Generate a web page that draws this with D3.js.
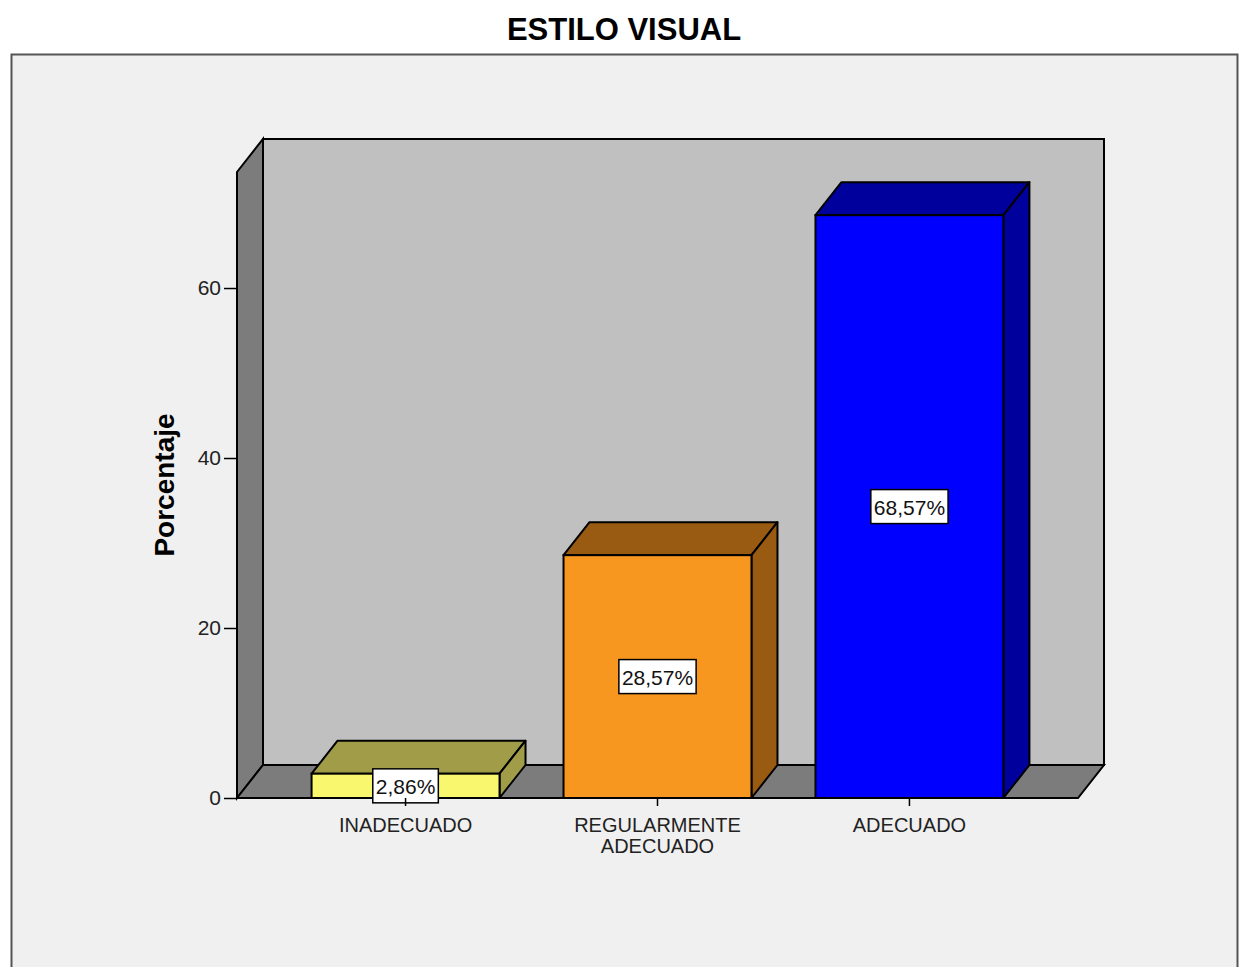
<!DOCTYPE html>
<html>
<head>
<meta charset="utf-8">
<script src="https://cdn.jsdelivr.net/npm/d3@7"></script>
<style>
  body { margin: 0; background: #ffffff; }
  svg { display: block; font-family: "Liberation Sans", Arial, sans-serif; }
</style>
</head>
<body>
<div id="chart"></div>
<script>
const categories = ['INADECUADO', 'REGULARMENTE\nADECUADO', 'ADECUADO'];
const percentages = [2.86, 28.57, 68.57];
const valueLabels = ['2,86%', '28,57%', '68,57%'];
const yTicks = [0, 20, 40, 60];
const frontColors = ['#f8f76e', '#f7971f', '#0000ff'];
const darkColors = ['#a09c48', '#995a12', '#00009c'];

const W = 1241, H = 967;
const depthX = 26, depthY = -33; // 3D offset

const svg = d3.select('#chart').append('svg')
  .attr('width', W).attr('height', H);

// outer frame
svg.append('rect').attr('x', 0).attr('y', 0).attr('width', W).attr('height', H).attr('fill', '#ffffff');
svg.append('rect')
  .attr('x', 11.5).attr('y', 54.5).attr('width', 1226).attr('height', 930)
  .attr('fill', '#f0f0f0').attr('stroke', '#555').attr('stroke-width', 2);

svg.append('text')
  .attr('x', 624).attr('y', 40)
  .attr('text-anchor', 'middle')
  .style('font-size', '31px').style('font-weight', 'bold')
  .attr('fill', '#000')
  .text('ESTILO VISUAL');

// scales (front plane)
const x = d3.scaleBand()
  .domain(categories)
  .range([237, 1078])
  .paddingInner(0.254)
  .paddingOuter(0.296);

const y = d3.scaleLinear()
  .domain([0, 73.65])
  .range([798, 172]);

const x0 = x.range()[0], x1 = x.range()[1];
const y0 = y(0), yTop = y(y.domain()[1]);
const pts = a => a.map(p => p.join(',')).join(' ');

// back wall
svg.append('polygon')
  .attr('points', pts([[x0 + depthX, yTop + depthY], [x1 + depthX, yTop + depthY], [x1 + depthX, y0 + depthY], [x0 + depthX, y0 + depthY]]))
  .attr('fill', '#c0c0c0').attr('stroke', '#000').attr('stroke-width', 2);
// left wall
svg.append('polygon')
  .attr('points', pts([[x0, yTop], [x0 + depthX, yTop + depthY], [x0 + depthX, y0 + depthY], [x0, y0]]))
  .attr('fill', '#7c7c7c').attr('stroke', '#000').attr('stroke-width', 2);
// floor
svg.append('polygon')
  .attr('points', pts([[x0, y0], [x0 + depthX, y0 + depthY], [x1 + depthX, y0 + depthY], [x1, y0]]))
  .attr('fill', '#7c7c7c').attr('stroke', '#000').attr('stroke-width', 2);

// bars
const bars = svg.selectAll('.bar')
  .data(percentages)
  .enter().append('g').attr('class', 'bar');

bars.each(function (d, i) {
  const g = d3.select(this);
  const bx = x(categories[i]), bw = x.bandwidth(), by = y(d);
  // top face
  g.append('polygon')
    .attr('points', pts([[bx, by], [bx + depthX, by + depthY], [bx + bw + depthX, by + depthY], [bx + bw, by]]))
    .attr('fill', darkColors[i]).attr('stroke', '#000').attr('stroke-width', 2).attr('stroke-linejoin', 'round');
  // side face
  g.append('polygon')
    .attr('points', pts([[bx + bw, by], [bx + bw + depthX, by + depthY], [bx + bw + depthX, y0 + depthY], [bx + bw, y0]]))
    .attr('fill', darkColors[i]).attr('stroke', '#000').attr('stroke-width', 2).attr('stroke-linejoin', 'round');
  // front face
  g.append('rect')
    .attr('x', bx).attr('y', by).attr('width', bw).attr('height', y0 - by)
    .attr('fill', frontColors[i]).attr('stroke', '#000').attr('stroke-width', 2);
});

// y axis
const yAxis = svg.append('g')
  .attr('transform', `translate(${x0},0)`)
  .call(d3.axisLeft(y).tickValues(yTicks).tickSize(13).tickPadding(3));
yAxis.select('.domain').remove();
yAxis.selectAll('.tick line').attr('stroke', '#000').attr('stroke-width', 1.5);
yAxis.selectAll('.tick text').style('font-size', '21px').attr('fill', '#222')
  .attr('font-family', '"Liberation Sans", Arial, sans-serif');

svg.append('text')
  .attr('transform', 'translate(174,485) rotate(-90)')
  .attr('text-anchor', 'middle')
  .style('font-size', '28px').style('font-weight', 'bold')
  .text('Porcentaje');

// x axis
const xAxis = svg.append('g')
  .attr('transform', `translate(0,${y0})`)
  .call(d3.axisBottom(x).tickSize(8).tickPadding(4));
xAxis.select('.domain').remove();
xAxis.selectAll('.tick line').attr('stroke', '#000').attr('stroke-width', 1.5);
xAxis.selectAll('.tick text').remove();
xAxis.selectAll('.tick').each(function (c) {
  const t = d3.select(this).append('text')
    .attr('text-anchor', 'middle')
    .attr('fill', '#222')
    .style('font-size', '20px')
    .attr('font-family', '"Liberation Sans", Arial, sans-serif');
  c.split('\n').forEach((line, k) => {
    t.append('tspan').attr('x', 0).attr('y', 34 + k * 21).text(line);
  });
});

// value labels
bars.each(function (d, i) {
  const g = d3.select(this);
  const cx = x(categories[i]) + x.bandwidth() / 2;
  const cy = (y(d) + y0) / 2;
  const t = g.append('text')
    .attr('x', cx).attr('y', cy + 8)
    .attr('text-anchor', 'middle')
    .style('font-size', '21px')
    .attr('fill', '#111')
    .text(valueLabels[i]);
  const bb = t.node().getBBox();
  g.insert('rect', 'text')
    .attr('x', bb.x - 3).attr('y', cy - 17)
    .attr('width', bb.width + 6).attr('height', 34)
    .attr('fill', '#fff').attr('stroke', '#000').attr('stroke-width', 1.5);
});
</script>
</body>
</html>
